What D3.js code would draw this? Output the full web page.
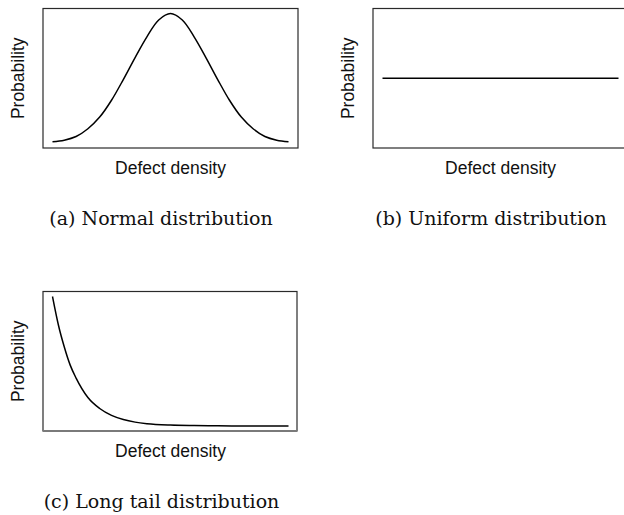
<!DOCTYPE html>
<html>
<head>
<meta charset="utf-8">
<script src="https://cdn.jsdelivr.net/npm/d3@7"></script>
<style>
  html, body { margin: 0; padding: 0; background: #fff; }
  svg { display: block; }
</style>
</head>
<body>
<svg id="chart" width="624" height="515"></svg>
<script>
// Defect density samples shared by the three sketches (arbitrary units)
const densityNormal = [0, 0.5, 1, 1.5, 2, 2.5, 3, 3.5, 4, 4.5, 5, 5.5, 6, 6.5, 7, 7.5, 8, 8.5, 9, 9.5, 10];
const probNormal    = [0.01, 0.022, 0.05, 0.11, 0.2, 0.33, 0.49, 0.66, 0.82, 0.95, 1.0, 0.95, 0.82, 0.66, 0.49, 0.33, 0.2, 0.11, 0.05, 0.022, 0.01];

const densityUniform = [0, 10];
const probUniform    = [0.5, 0.5];

const densityLongTail = [0, 0.25, 0.5, 0.75, 1, 1.5, 2, 2.5, 3, 3.5, 4, 5, 6, 7, 8, 9, 10];
const probLongTail    = [1.0, 0.78, 0.61, 0.47, 0.37, 0.22, 0.135, 0.082, 0.05, 0.03, 0.018, 0.007, 0.003, 0.001, 0, 0, 0];

const xLabel = "Defect density";
const yLabel = "Probability";
const captions = ["(a) Normal distribution", "(b) Uniform distribution", "(c) Long tail distribution"];

const panels = [
  { x: densityNormal,   y: probNormal,   curve: d3.curveCatmullRom, left: 43,  top: 8.5,   width: 255, height: 139.5, caption: captions[0], capX: 161, bottomShade: false },
  { x: densityUniform,  y: probUniform,  curve: d3.curveLinear,     left: 373, top: 8.5,   width: 260, height: 139.5, caption: captions[1], capX: 491, bottomShade: false },
  { x: densityLongTail, y: probLongTail, curve: d3.curveMonotoneX,  left: 43,  top: 291.5, width: 254, height: 139.5, caption: captions[2], capX: 161.5, bottomShade: true }
];

const svg = d3.select("#chart");

panels.forEach(p => {
  const g = svg.append("g").attr("transform", `translate(${p.left},${p.top})`);

  const x = d3.scaleLinear().domain([0, 10]).range([9.5, 245.5]);
  const y = d3.scaleLinear().domain([0, 1]).range([p.height - 5, 5]);

  // frame
  g.append("rect")
    .attr("x", 0).attr("y", 0)
    .attr("width", p.width).attr("height", p.height)
    .attr("fill", "none")
    .attr("stroke", "#2a2a2a")
    .attr("stroke-width", 1.2);

  if (p.bottomShade) {
    g.append("line")
      .attr("x1", 0).attr("x2", p.width)
      .attr("y1", p.height).attr("y2", p.height)
      .attr("stroke", "#7a7a7a").attr("stroke-width", 2.2);
  }

  const pts = p.x.map((d, i) => [d, p.y[i]]);
  const line = d3.line().x(d => x(d[0])).y(d => y(d[1])).curve(p.curve);

  g.append("path")
    .attr("d", line(pts))
    .attr("fill", "none")
    .attr("stroke", "#000")
    .attr("stroke-width", 1.5);

  // axis titles
  g.append("text")
    .attr("transform", `translate(-19,${p.height / 2}) rotate(-90)`)
    .attr("text-anchor", "middle")
    .attr("font-family", "'Liberation Sans', Arial, sans-serif")
    .attr("font-size", 17.5)
    .attr("fill", "#111")
    .text(yLabel);

  g.append("text")
    .attr("x", x(5))
    .attr("y", p.height + 26)
    .attr("text-anchor", "middle")
    .attr("font-family", "'Liberation Sans', Arial, sans-serif")
    .attr("font-size", 17.5)
    .attr("fill", "#111")
    .text(xLabel);

  // sub-figure caption
  svg.append("text")
    .attr("x", p.capX)
    .attr("y", p.top + 216)
    .attr("text-anchor", "middle")
    .attr("font-family", "'DejaVu Serif', serif")
    .attr("font-size", 19)
    .attr("fill", "#111")
    .text(p.caption);
});
</script>
</body>
</html>
